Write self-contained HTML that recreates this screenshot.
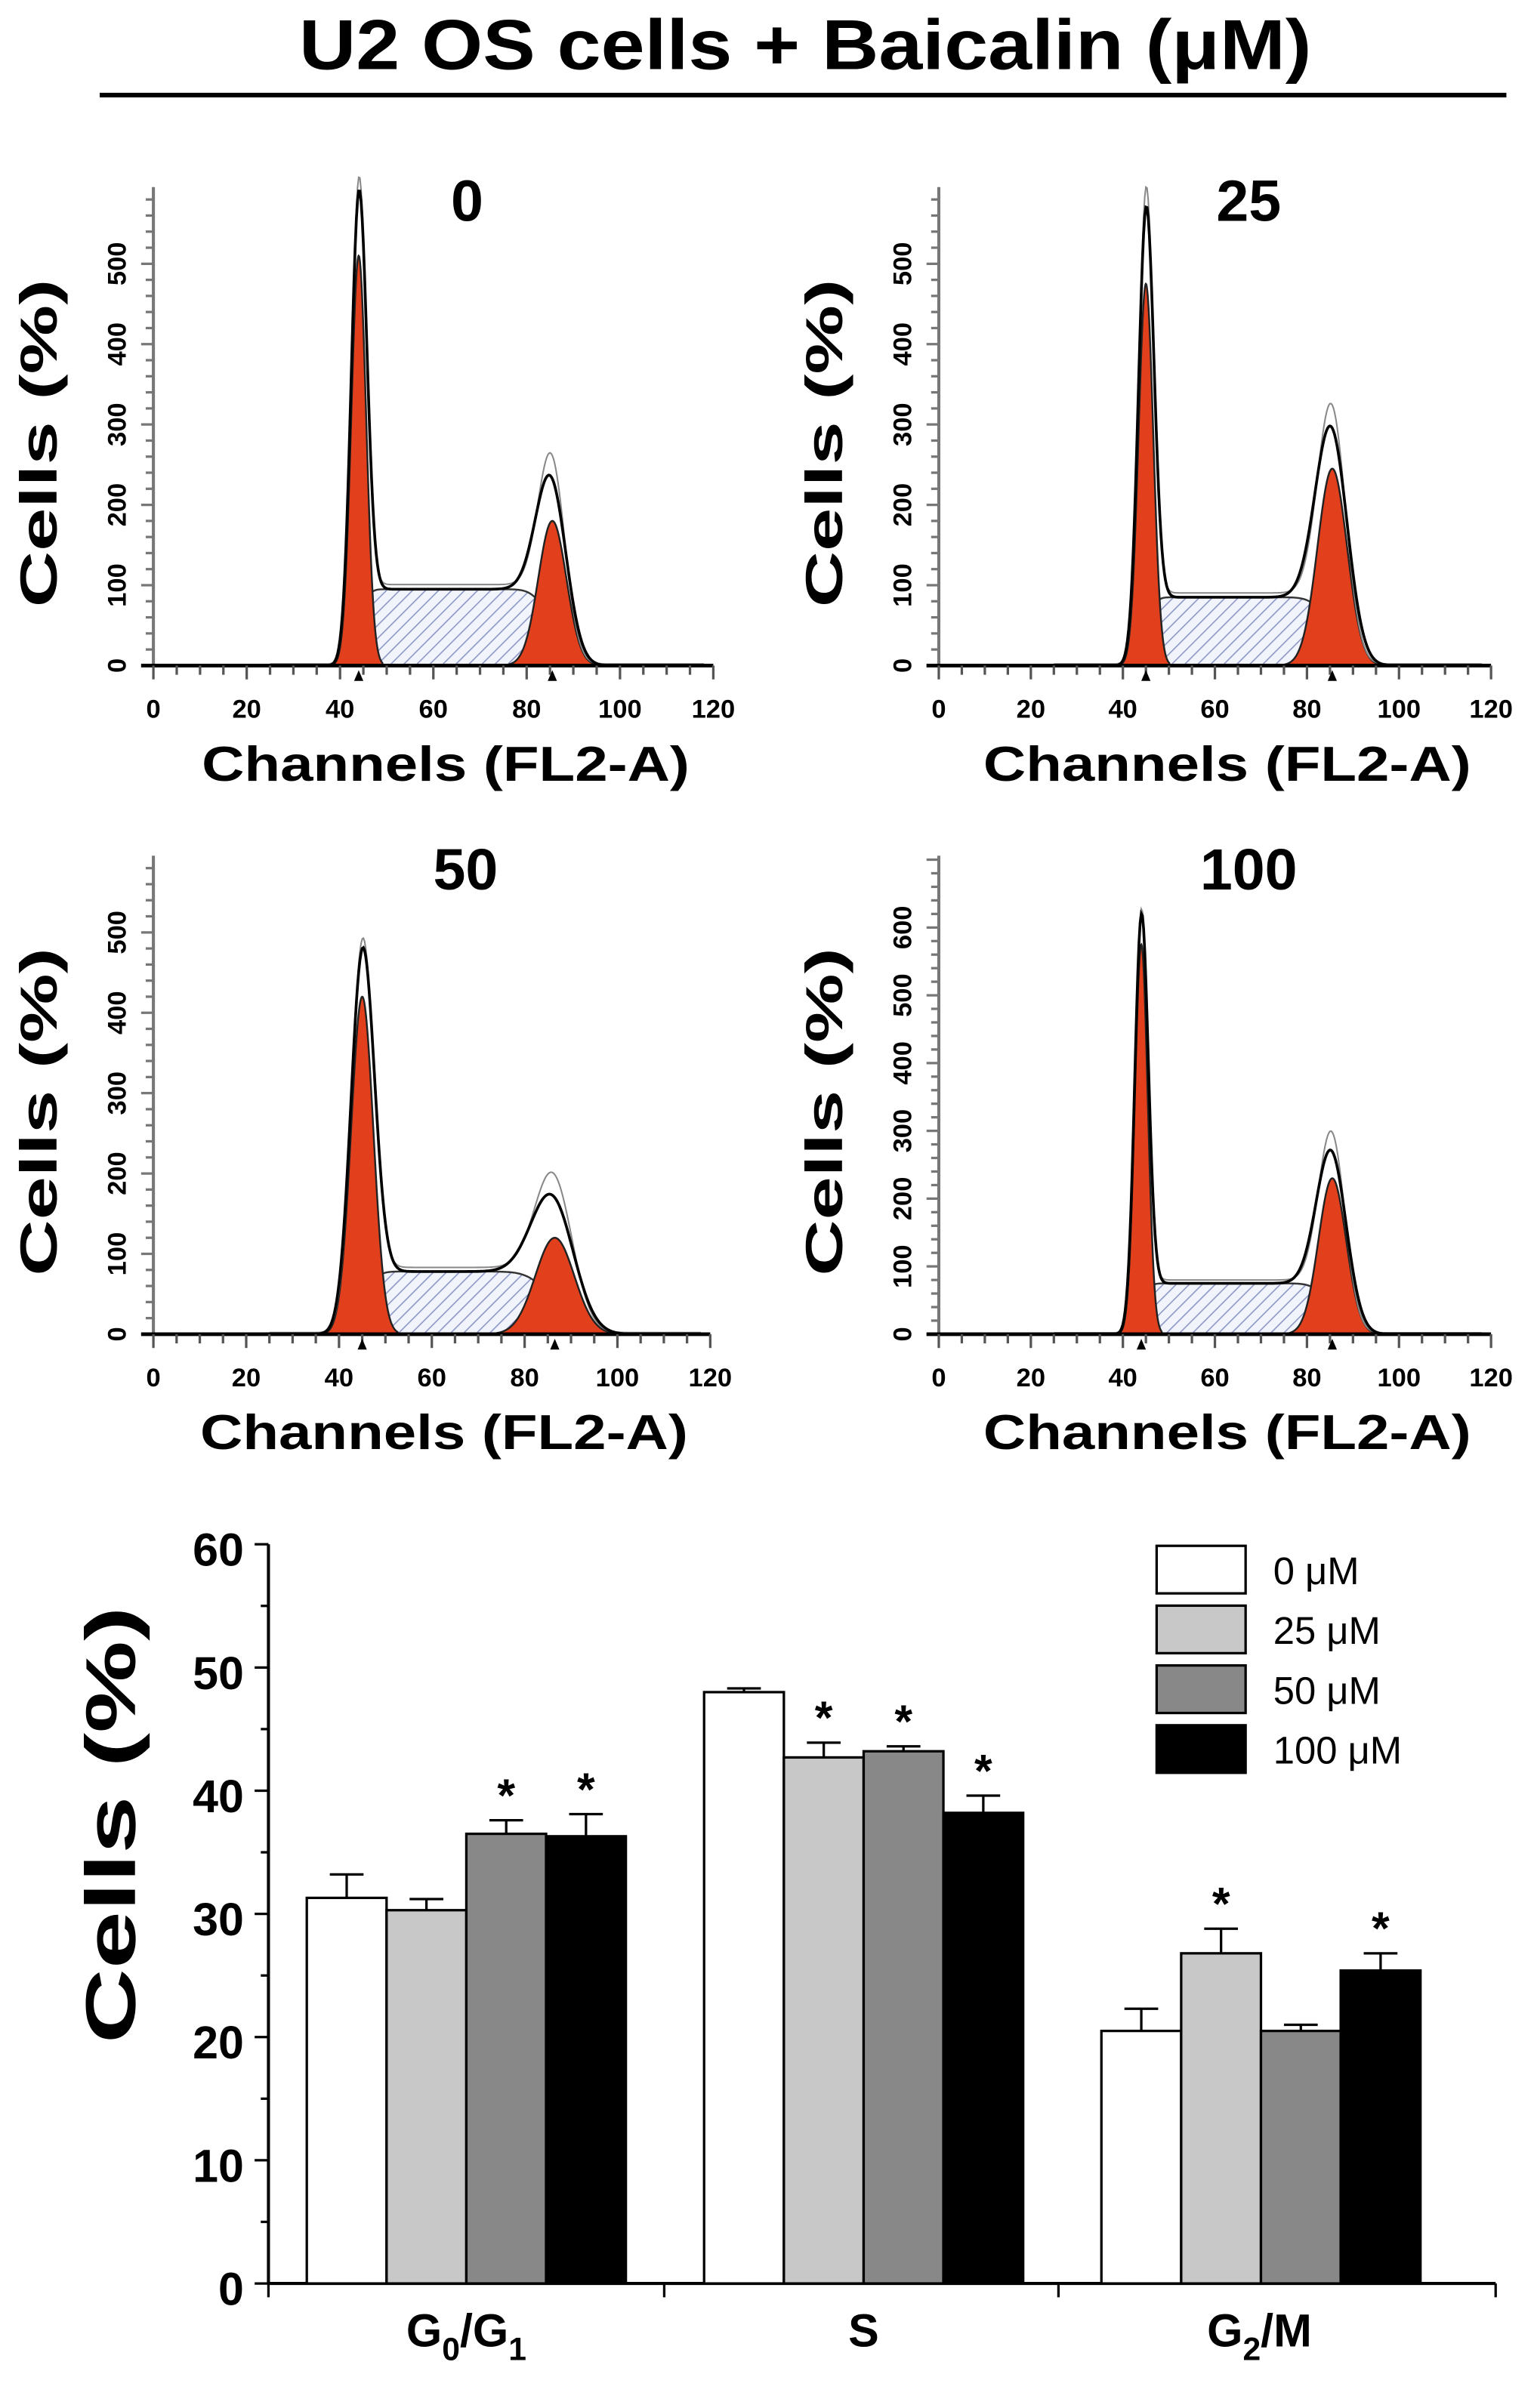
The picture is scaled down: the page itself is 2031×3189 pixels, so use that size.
<!DOCTYPE html>
<html><head><meta charset="utf-8">
<style>
html,body{margin:0;padding:0;background:#fff;}
svg{display:block;}
text{font-family:"Liberation Sans",Arial,sans-serif;font-weight:bold;fill:#000;}
</style></head>
<body>
<svg id="fig" width="2031" height="3189" viewBox="0 0 1000 1570.2" preserveAspectRatio="none" xmlns="http://www.w3.org/2000/svg">
<defs>
<pattern id="hatch" patternUnits="userSpaceOnUse" width="6" height="6" patternTransform="rotate(45)">
<rect width="6" height="6" fill="#f2f4fb"/>
<line x1="0" y1="0" x2="0" y2="6" stroke="#8e98c8" stroke-width="1.6"/>
</pattern>
</defs>
<text x="525" y="45" text-anchor="middle" font-size="46" textLength="660" lengthAdjust="spacingAndGlyphs">U2 OS cells + Baicalin (μM)</text>
<line x1="65" y1="62" x2="982" y2="62" stroke="#000" stroke-width="3"/>
<g id="hists"></g>
<g id="bars"></g>
</svg>
<script>
// ---------- histogram data (fitted model parameters per dose panel) ----------
const histLabels = ["0","25","50","100"];
const histYLabelMax = [500, 500, 500, 600];
const g1Mean = [44, 45, 45, 44];
const g1Height = [510, 475, 420, 575];
const g1Sd = [1.6, 1.6, 2.4, 1.4];
const g2Mean = [85.5, 85.5, 86.5, 85.5];
const g2Height = [180, 245, 120, 230];
const g2Sd = [3.0, 3.2, 4.2, 3.0];
const sLevel = [95, 85, 78, 75];
const g1EnvExtra = [33, 53, 21, 8];
const g2EnvExtra = [5, 8, 11, 2];
const xTickLabels = [0,20,40,60,80,100,120];

// ---------- bar chart data ----------
const phases = ["G0/G1","S","G2/M"];
const doses = ["0 μM","25 μM","50 μM","100 μM"];
const val0 = [31.3, 48.0, 20.5];
const val25 = [30.3, 42.7, 26.8];
const val50 = [36.5, 43.2, 20.5];
const val100 = [36.3, 38.2, 25.4];
const err0 = [1.9, 0.3, 1.8];
const err25 = [0.9, 1.2, 2.0];
const err50 = [1.1, 0.4, 0.5];
const err100 = [1.8, 1.4, 1.4];
const sig0 = [false,false,false];
const sig25 = [false,true,true];
const sig50 = [true,true,false];
const sig100 = [true,true,true];
const yTicks = [0,10,20,30,40,50,60];

const NS="http://www.w3.org/2000/svg";
function mk(tag, attrs, parent){const e=document.createElementNS(NS,tag);for(const k in attrs)e.setAttribute(k,attrs[k]);parent.appendChild(e);return e;}
function erf(x){const t=1/(1+0.3275911*Math.abs(x));const y=1-(((((1.061405429*t-1.453152027)*t)+1.421413741)*t-0.284496736)*t+0.254829592)*t*Math.exp(-x*x);return x>=0?y:-y;}
function Phi(z){return 0.5*(1+erf(z/Math.SQRT2));}
function gauss(x,m,h,s){return h*Math.exp(-0.5*((x-m)/s)**2);}

const hg=document.getElementById('hists');
const panels=[{x0:100,x1:465,y0:434},{x0:612,x1:972,y0:434},{x0:100,x1:463,y0:870},{x0:612,x1:972,y0:870}];
panels.forEach((p,i)=>{
  const g=mk('g',{},hg);
  
  
  const ppu = (i===3)? 44.2/100 : 52.4/100;
  const X=v=>p.x0+(v/120)*(p.x1-p.x0);
  const Y=v=>p.y0-v*ppu;
  const step=0.25;
  const xs=[];for(let x=25;x<=118;x+=step)xs.push(x);
  const sF=x=>sLevel[i]*Phi((x-g1Mean[i])/g1Sd[i])*(1-Phi((x-g2Mean[i])/g2Sd[i]));
  const g1F=x=>gauss(x,g1Mean[i],g1Height[i],g1Sd[i]);
  const g2F=x=>gauss(x,g2Mean[i],g2Height[i],g2Sd[i]);
  let d='M'+X(xs[0])+','+Y(0);xs.forEach(x=>d+='L'+X(x).toFixed(2)+','+Y(sF(x)).toFixed(2));d+='L'+X(xs[xs.length-1])+','+Y(0)+'Z';
  const sp=mk('path',{d:d,fill:'url(#hatch)',stroke:'#333','stroke-width':1.2},g);
  
  
  [[g1F,'g1'],[g2F,'g2']].forEach(([f,n])=>{
    const m=n==='g1'?g1Mean[i]:g2Mean[i];const s=n==='g1'?g1Sd[i]:g2Sd[i];
    const a=m-3.2*s,b=m+3.2*s;let dd='M'+X(a)+','+Y(0);
    for(let x=a;x<=b;x+=0.1)dd+='L'+X(x).toFixed(2)+','+Y(f(x)).toFixed(2);
    dd+='L'+X(b)+','+Y(0)+'Z';
    const pk=mk('path',{d:dd,fill:'#e2401d',stroke:'#222','stroke-width':1.2},g);
    
    
  });
  const env=x=>gauss(x,g1Mean[i],g1Height[i]+g1EnvExtra[i],g1Sd[i]*1.05)+gauss(x,g2Mean[i],g2Height[i]+g2EnvExtra[i],g2Sd[i]*1.08)+sF(x);
  const raw=x=>gauss(x,g1Mean[i],g1Height[i]+g1EnvExtra[i]*1.4,g1Sd[i])+gauss(x,g2Mean[i],g2Height[i]+g2EnvExtra[i]+25,g2Sd[i]*0.95)+sF(x)*1.04+2;
  let e1='',e2='';
  xs.forEach((x,k)=>{e1+=(k?'L':'M')+X(x).toFixed(2)+','+Y(env(x)).toFixed(2);e2+=(k?'L':'M')+X(x).toFixed(2)+','+Y(raw(x)).toFixed(2);});
  const l2=mk('path',{d:e2,fill:'none',stroke:'#888','stroke-width':1},g);
  
  
  const l1=mk('path',{d:e1,fill:'none',stroke:'#000','stroke-width':1.8},g);
  
  
  const ya=mk('line',{x1:p.x0,y1:p.y0,x2:p.x0,y2:p.y0-312,stroke:'#777','stroke-width':2},g);
  
  
  for(let v=0;Y(v)>=p.y0-310;v+=20){const l=v%100===0;mk('line',{x1:p.x0-(l?8:5),y1:Y(v),x2:p.x0,y2:Y(v),stroke:'#777','stroke-width':1.6},g);}
  for(let v=0;v<=histYLabelMax[i];v+=100){
    const tx=p.x0-24;
    const t=mk('text',{x:tx,y:Y(v)+6,'font-size':17,'text-anchor':'middle',transform:`rotate(-90 ${tx} ${Y(v)})`},g);
    t.textContent=v;
    
    
  }
  const xa=mk('line',{x1:p.x0-8,y1:p.y0,x2:p.x1,y2:p.y0,stroke:'#000','stroke-width':2.4},g);
  
  
  for(let v=0;v<=120;v+=5){mk('line',{x1:X(v),y1:p.y0,x2:X(v),y2:p.y0+(v%20===0?9:6),stroke:'#555','stroke-width':1.6},g);}
  xTickLabels.forEach(v=>{const t=mk('text',{x:X(v),y:p.y0+34,'font-size':17,'text-anchor':'middle'},g);t.textContent=v;
    
    });
  [g1Mean[i],g2Mean[i]].forEach(m=>mk('path',{d:`M${X(m)-3},${p.y0+10}L${X(m)+3},${p.y0+10}L${X(m)},${p.y0+3}Z`,fill:'#000'},g));
  const tt=mk('text',{x:(p.x0+p.x1)/2+22,y:p.y0-290,'font-size':38,'text-anchor':'middle'},g);tt.textContent=histLabels[i];
  
  
  const xt=mk('text',{x:(p.x0+p.x1)/2+8,y:p.y0+75,'font-size':32,'text-anchor':'middle',textLength:318,lengthAdjust:'spacingAndGlyphs'},g);xt.textContent='Channels (FL2-A)';
  
  
  const cy=p.y0-145, cx=p.x0-75;
  const yt=mk('text',{x:cx,y:cy+12,'font-size':34,'text-anchor':'middle',textLength:214,lengthAdjust:'spacingAndGlyphs',transform:`rotate(-90 ${cx} ${cy})`},g);yt.textContent='Cells (%)';
  
  
});

// ---------- bar chart ----------
const bg=document.getElementById('bars');
const bx0=175,bx1=975,by0=1489,byPer=(1489-1007)/60;
const BY=v=>by0-v*byPer;
const groupStart=[200,459,718],bw=52;
const fills=['#ffffff','#c8c8c8','#888888','#000000'];
const vals=[val0,val25,val50,val100],errs=[err0,err25,err50,err100],sigs=[sig0,sig25,sig50,sig100];
const ax=mk('line',{x1:bx0,y1:by0,x2:bx0,y2:1007,stroke:'#000','stroke-width':2},bg);


for(let v=0;v<=60;v+=5){mk('line',{x1:bx0-(v%10===0?9:5),y1:BY(v),x2:bx0,y2:BY(v),stroke:'#000','stroke-width':1.6},bg);}
yTicks.forEach(v=>{const t=mk('text',{x:bx0-16,y:BY(v)+14,'font-size':30,'text-anchor':'end'},bg);t.textContent=v;
  
  });
const xax=mk('line',{x1:bx0,y1:by0,x2:bx1,y2:by0,stroke:'#000','stroke-width':2},bg);


[bx0,433,690,bx1].forEach(x=>mk('line',{x1:x,y1:by0,x2:x,y2:by0+9,stroke:'#000','stroke-width':1.6},bg));
phases.forEach((ph,gi)=>{
  for(let s=0;s<4;s++){
    const v=vals[s][gi],e=errs[s][gi],x=groupStart[gi]+s*bw;
    mk('line',{x1:x+bw/2,y1:BY(v),x2:x+bw/2,y2:BY(v+e),stroke:'#000','stroke-width':1.6},bg);
    mk('line',{x1:x+bw/2-11,y1:BY(v+e),x2:x+bw/2+11,y2:BY(v+e),stroke:'#000','stroke-width':1.6},bg);
    const r=mk('rect',{x:x,y:BY(v),width:bw,height:by0-BY(v),fill:fills[s],stroke:'#000','stroke-width':1.6},bg);
    
    
    if(sigs[s][gi]){const t=mk('text',{x:x+bw/2,y:BY(v+e)-6,'font-size':30,'text-anchor':'middle'},bg);t.textContent='*';
      
      }
  }
});
const catX=[304,563,821];
const c0=mk('text',{x:catX[0],y:1530,'font-size':30,'text-anchor':'middle'},bg);
c0.innerHTML='G<tspan font-size="21" dy="9">0</tspan><tspan dy="-9">/G</tspan><tspan font-size="21" dy="9">1</tspan>';


const c1=mk('text',{x:catX[1],y:1530,'font-size':30,'text-anchor':'middle'},bg);c1.textContent='S';


const c2=mk('text',{x:catX[2],y:1530,'font-size':30,'text-anchor':'middle'},bg);
c2.innerHTML='G<tspan font-size="21" dy="9">2</tspan><tspan dy="-9">/M</tspan>';


const byt=mk('text',{x:72,y:1190+16,'font-size':46,'text-anchor':'middle',textLength:285,lengthAdjust:'spacingAndGlyphs',transform:'rotate(-90 72 1190)'},bg);byt.textContent='Cells (%)';


const legY=[1008,1047,1086,1125];
doses.forEach((d,s)=>{
  const r=mk('rect',{x:754,y:legY[s],width:58,height:31,fill:fills[s],stroke:'#000','stroke-width':1.6},bg);
  
  
  const t=mk('text',{x:830,y:legY[s]+25,'font-size':25,'text-anchor':'start'},bg);
  t.setAttribute('style','font-weight:normal');
  t.textContent=d;
  
  
});
</script>
</body></html>
